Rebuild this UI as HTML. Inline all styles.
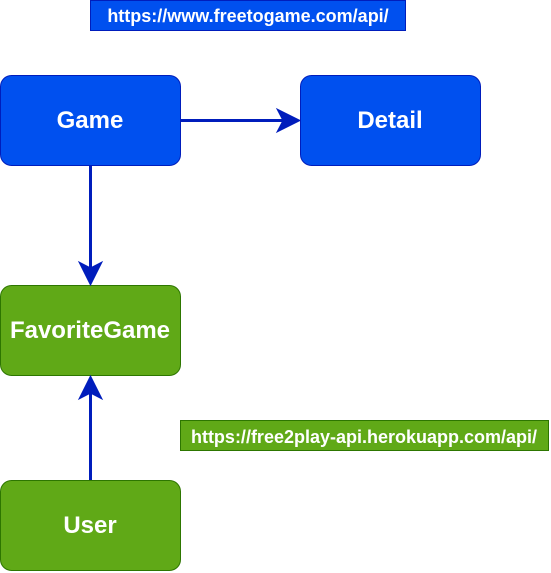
<!DOCTYPE html>
<html><head><style>body{margin:0;background:#fff;}svg{display:block}</style></head><body>
<svg width="551" height="573" viewBox="0 0 551 573" xmlns="http://www.w3.org/2000/svg" font-family="Liberation Sans, sans-serif" font-weight="bold">
<rect x="90.5" y="0.5" width="315" height="30" fill="#0050ef" stroke="#001dbc"/>
<text x="248" y="22" text-anchor="middle" fill="#fff" font-size="18">https://www.freetogame.com/api/</text>
<rect x="0.5" y="75.5" width="180" height="90" rx="11" fill="#0050ef" stroke="#001dbc"/>
<text x="90" y="128" text-anchor="middle" fill="#fff" font-size="24">Game</text>
<rect x="300.5" y="75.5" width="180" height="90" rx="11" fill="#0050ef" stroke="#001dbc"/>
<text x="390" y="128" text-anchor="middle" fill="#fff" font-size="24">Detail</text>
<rect x="0.5" y="285.5" width="180" height="90" rx="11" fill="#60a917" stroke="#2d7600"/>
<text x="90" y="338" text-anchor="middle" fill="#fff" font-size="24">FavoriteGame</text>
<rect x="0.5" y="480.5" width="180" height="90" rx="11" fill="#60a917" stroke="#2d7600"/>
<text x="90" y="533" text-anchor="middle" fill="#fff" font-size="24">User</text>
<rect x="180.5" y="420.5" width="368" height="30" fill="#60a917" stroke="#2d7600"/>
<text x="364" y="443" text-anchor="middle" fill="#fff" font-size="18">https://free2play-api.herokuapp.com/api/</text>
<g stroke="#001dbc" stroke-width="3" fill="#001dbc">
<line x1="181" y1="120.5" x2="285" y2="120.5"/>
<path d="M300 120.5 L277 109 L283 120.5 L277 132 Z" stroke-width="1"/>
<line x1="90.5" y1="166" x2="90.5" y2="270"/>
<path d="M90.5 285 L79 262 L90.5 268 L102 262 Z" stroke-width="1"/>
<line x1="90.5" y1="480" x2="90.5" y2="392"/>
<path d="M90.5 376 L79 399 L90.5 393 L102 399 Z" stroke-width="1"/>
</g>
</svg>
</body></html>
